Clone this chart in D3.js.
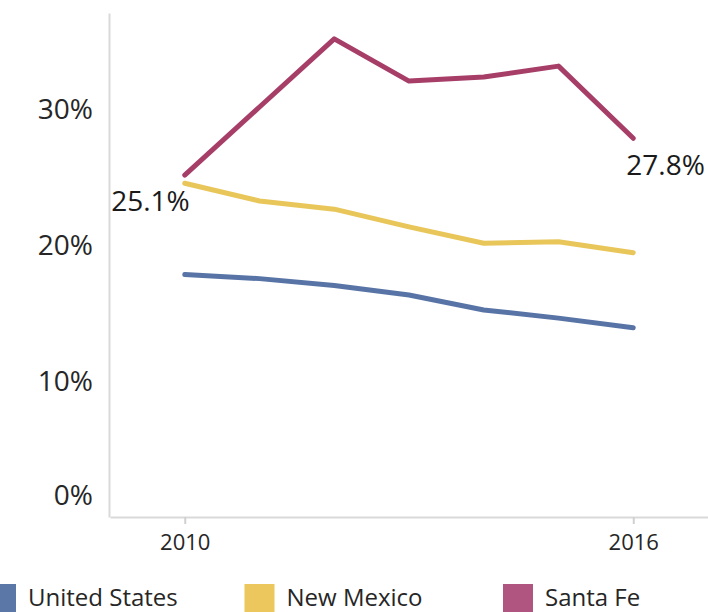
<!DOCTYPE html>
<html>
<head>
<meta charset="utf-8">
<script src="https://cdn.jsdelivr.net/npm/d3@7"></script>
<style>
  body { margin: 0; background: #fff; }
  svg { display: block; font-family: "Open Sans", "Noto Sans", sans-serif; }
</style>
</head>
<body>
<svg id="chart" width="708" height="612"></svg>
<script>
// data
var years = [2010, 2011, 2012, 2013, 2014, 2015, 2016]
var seriesNames = ['United States', 'New Mexico', 'Santa Fe']
var unitedStates = [17.8, 17.5, 17.0, 16.3, 15.2, 14.6, 13.9]
var newMexico = [24.5, 23.2, 22.6, 21.3, 20.1, 20.2, 19.4]
var santaFe = [25.1, 30.1, 35.1, 32.0, 32.3, 33.1, 27.8]
var yTicks = [0, 10, 20, 30]
var xTicks = [2010, 2016]
var lineColors = ['#5874a6', '#e9c65a', '#a63e68']
var swatchColors = ['#5b77a8', '#ebc75d', '#b05580']

var svg = d3.select('#chart')

var x = d3.scaleLinear().domain([2009, 2017]).range([110, 708])
var y = d3.scaleLinear().domain([0, 37]).range([517, 13])

// y axis
var yAxis = svg.append('g')
  .attr('transform', 'translate(109,0)')
  .call(d3.axisLeft(y).tickValues(yTicks).tickSize(0).tickPadding(16)
    .tickFormat(d => d + '%'))
yAxis.select('.domain').attr('stroke', '#d9d9d9').attr('stroke-width', 2)
yAxis.selectAll('text')
  .attr('font-size', 28)
  .attr('fill', '#262626')
  .attr('font-family', '"Open Sans", sans-serif')
  .attr('dy', d => d === 0 ? '-0.45em' : '0.35em')

// x axis
var xAxis = svg.append('g')
  .attr('transform', 'translate(0,517)')
  .call(d3.axisBottom(x).tickValues(xTicks).tickSize(7).tickSizeOuter(0)
    .tickPadding(10).tickFormat(d3.format('d')))
xAxis.select('.domain').attr('stroke', '#d9d9d9').attr('stroke-width', 2)
xAxis.selectAll('line').attr('stroke', '#d0d0d0').attr('stroke-width', 2)
xAxis.selectAll('text')
  .attr('font-size', 22)
  .attr('fill', '#262626')
  .attr('font-family', '"Open Sans", sans-serif')

// lines
var allSeries = [unitedStates, newMexico, santaFe]
var line = d3.line()
  .x((d, i) => x(years[i]))
  .y(d => y(d))

svg.append('g')
  .selectAll('path')
  .data(allSeries)
  .enter()
  .append('path')
  .attr('d', line)
  .attr('fill', 'none')
  .attr('stroke', (d, i) => lineColors[i])
  .attr('stroke-width', 5)
  .attr('stroke-linejoin', 'round')
  .attr('stroke-linecap', 'round')

// end labels for Santa Fe
var last = years.length - 1
svg.append('text')
  .attr('x', x(years[0]) + 5)
  .attr('y', y(santaFe[0]) + 26)
  .attr('dy', '0.35em')
  .attr('text-anchor', 'end')
  .attr('font-size', 28)
  .attr('fill', '#1a1a1a')
  .text(santaFe[0].toFixed(1) + '%')
svg.append('text')
  .attr('x', x(years[last]) - 7)
  .attr('y', y(santaFe[last]) + 27)
  .attr('dy', '0.35em')
  .attr('text-anchor', 'start')
  .attr('font-size', 28)
  .attr('fill', '#1a1a1a')
  .text(santaFe[last].toFixed(1) + '%')

// legend
var legend = svg.append('g')
  .selectAll('g')
  .data(seriesNames)
  .enter()
  .append('g')
  .attr('transform', (d, i) => 'translate(' + (-14 + i * 258.5) + ',584)')

legend.append('rect')
  .attr('width', 30)
  .attr('height', 30)
  .attr('fill', (d, i) => swatchColors[i])

legend.append('text')
  .attr('x', 42)
  .attr('y', 22)
  .attr('font-size', 24)
  .attr('fill', '#262626')
  .text(d => d)
</script>
</body>
</html>
